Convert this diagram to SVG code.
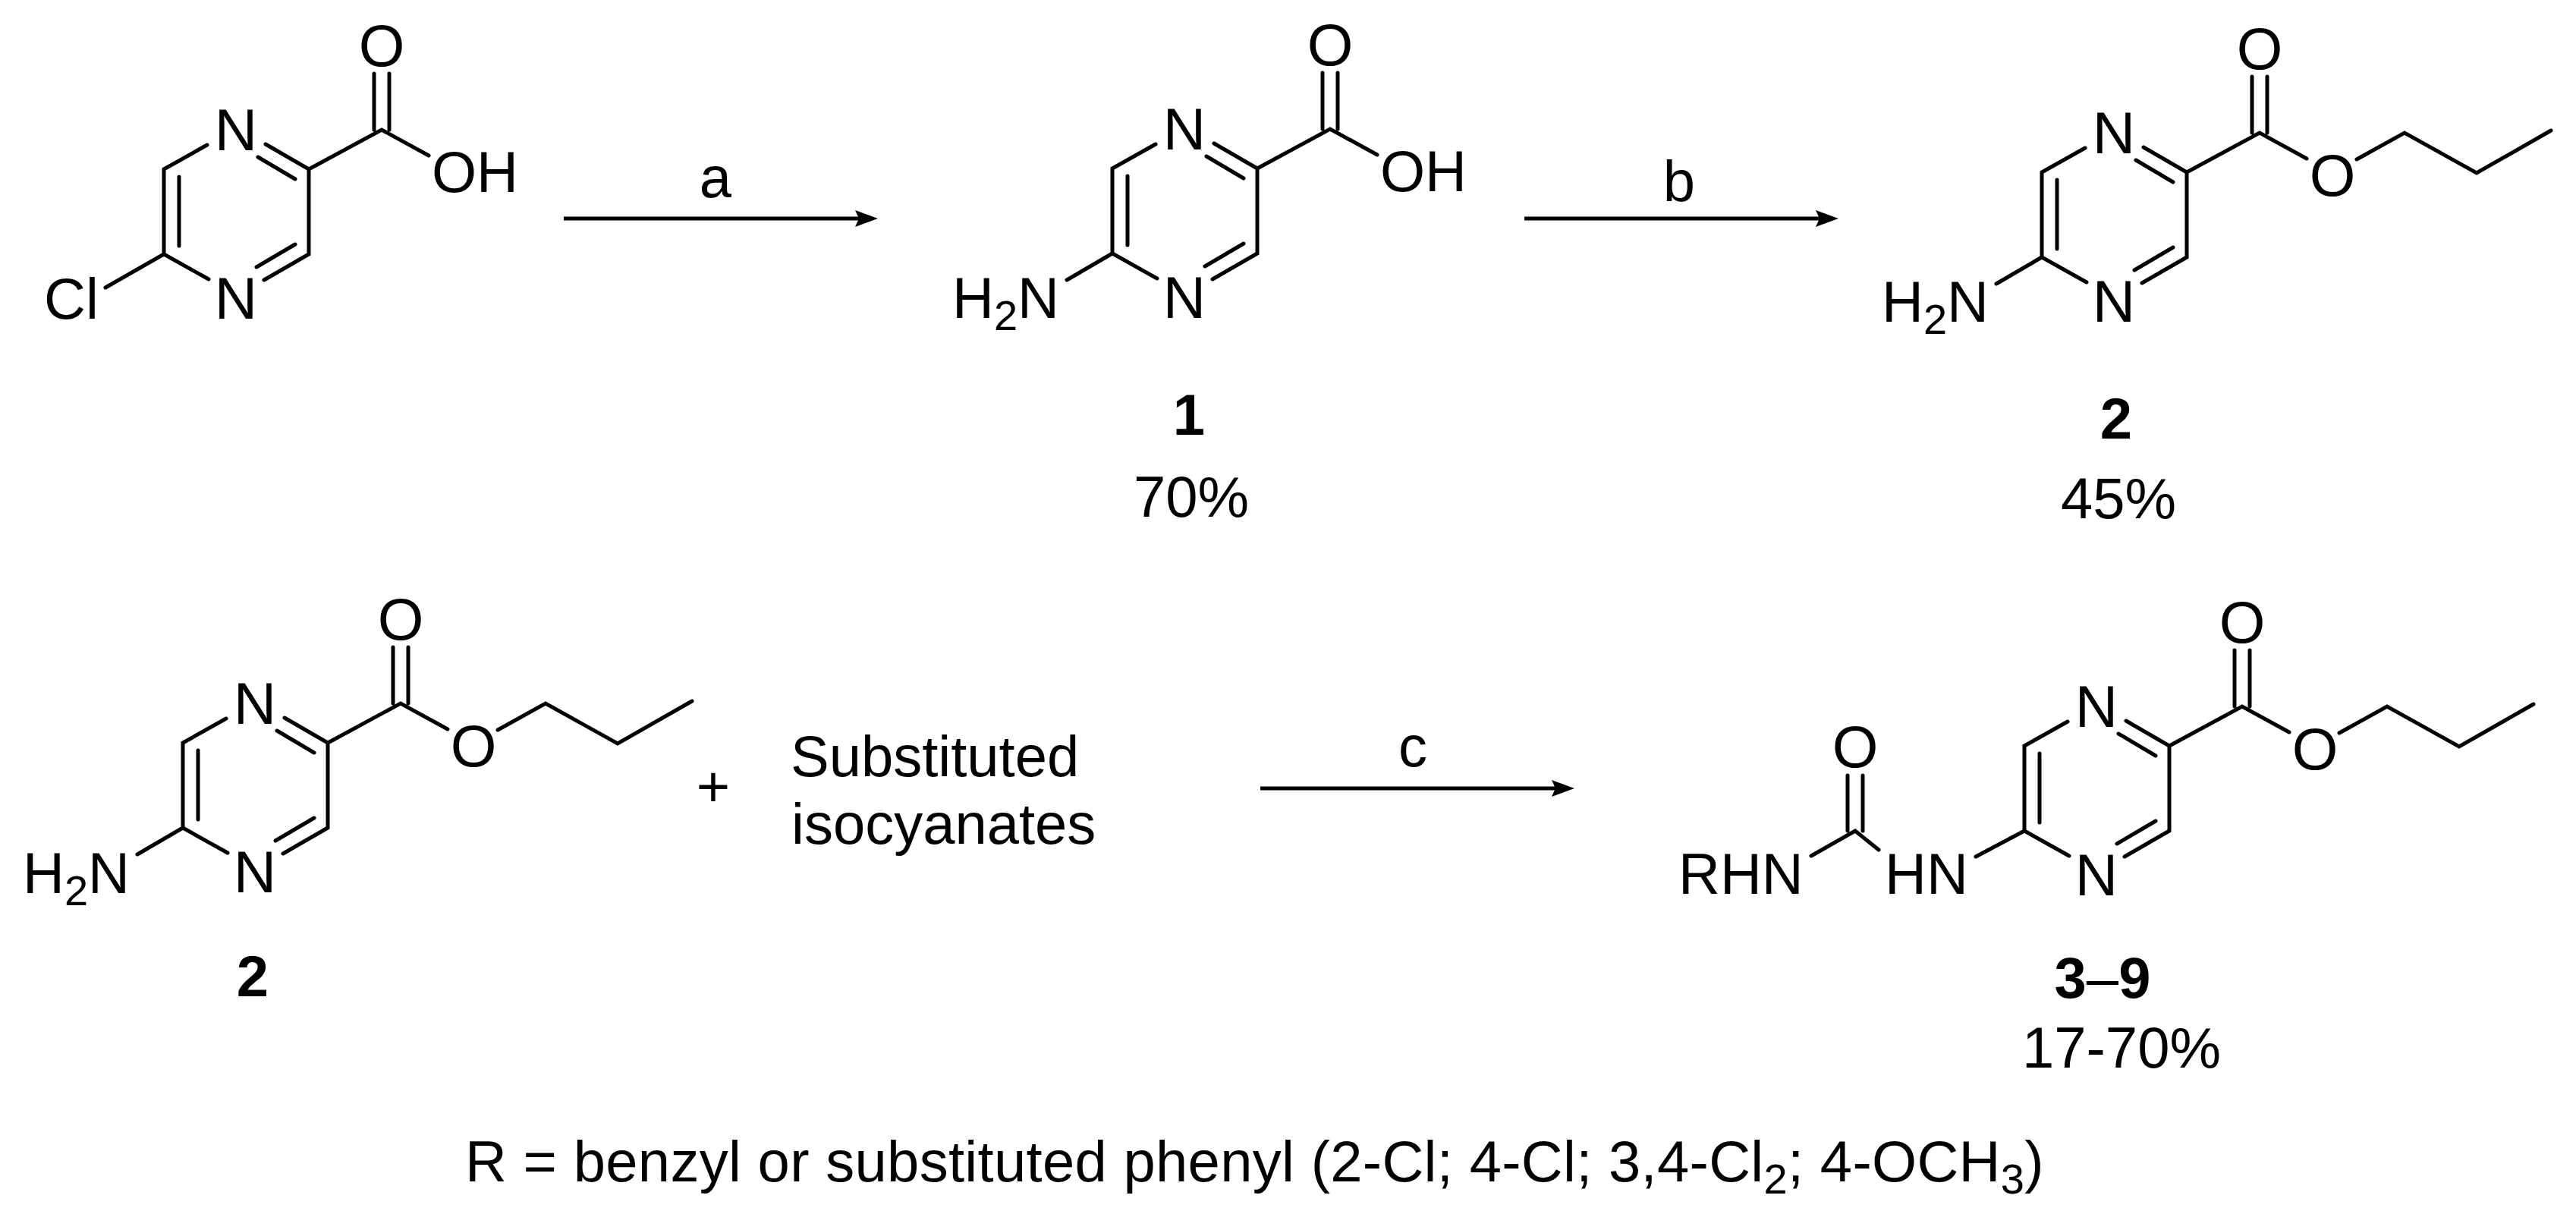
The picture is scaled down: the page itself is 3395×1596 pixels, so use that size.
<svg xmlns="http://www.w3.org/2000/svg" width="3395" height="1596" viewBox="0 0 3395 1596">
<style>
text{font-family:"Liberation Sans",Arial,sans-serif;font-size:76px;fill:#000}
.m{text-anchor:middle}
.a{font-size:78px}
.b{font-weight:bold}
.r{font-weight:normal}
.s{font-size:56px}
.bond{fill:none;stroke:#000;stroke-width:5;stroke-linecap:round;stroke-linejoin:miter;stroke-miterlimit:6}
.arrow{fill:none;stroke:#000;stroke-width:5;marker-end:url(#head)}
</style>
<defs>
<marker id="head" markerUnits="userSpaceOnUse" markerWidth="34" markerHeight="26" viewBox="0 -13 34 26" refX="6" refY="0" orient="auto" overflow="visible"><path d="M0,-11L30,0L0,11L5,0Z" fill="#000"/></marker>
<g id="core">
<path class="bond" d="M-134,-32L-191,0V112L-132,145M-171,10V101M-57,-33L0,0V112L-59,146M-67,-16L-18,13M-18,99L-69,129M0,0L96,-52L158,-18M86,-52V-126M106,-52V-126"/>
<text class="m a" x="-96" y="-25">N</text>
<text class="m a" x="-96" y="197">N</text>
<text class="m a" x="96" y="-136">O</text>
</g>
<path id="propyl" class="bond" d="M224,-17L287,-52L382,1L480,-55"/>
<path id="nh2bond" class="bond" d="M-191,112L-251,147"/>
</defs>

<g id="connectors">
<line class="arrow" x1="743" y1="288" x2="1133" y2="288"/>
<line class="arrow" x1="2009" y1="288" x2="2399" y2="288"/>
<line class="arrow" x1="1661" y1="1039" x2="2051" y2="1039"/>
</g>

<g id="chloropyrazine-acid" transform="translate(407,223)">
<use href="#core"/>
<path class="bond" d="M-191,112L-268,156"/>
<text x="-349" y="197">Cl</text>
<text x="162" y="30">OH</text>
</g>

<g id="compound-1" transform="translate(1657,222)">
<use href="#core"/><use href="#nh2bond"/>
<text x="-402" y="197">H<tspan class="s" dy="16">2</tspan><tspan dy="-16">N</tspan></text>
<text x="162" y="30">OH</text>
</g>
<g id="label-1">
<text class="m b" x="1567" y="573">1</text>
<text class="m" x="1570" y="681">70%</text>
</g>

<g id="compound-2" transform="translate(2882,227)">
<use href="#core"/><use href="#nh2bond"/><use href="#propyl"/>
<text x="-402" y="197">H<tspan class="s" dy="16">2</tspan><tspan dy="-16">N</tspan></text>
<text class="m a" x="192" y="31">O</text>
</g>
<g id="label-2">
<text class="m b" x="2789" y="578">2</text>
<text class="m" x="2792" y="683">45%</text>
</g>

<g id="compound-2b" transform="translate(432,979)">
<use href="#core"/><use href="#nh2bond"/><use href="#propyl"/>
<text x="-402" y="198">H<tspan class="s" dy="16">2</tspan><tspan dy="-16">N</tspan></text>
<text class="m a" x="192" y="31">O</text>
</g>
<g id="label-2b">
<text class="m b" x="333" y="1313">2</text>
</g>

<g id="plus"><text class="m" x="940" y="1063">+</text></g>
<g id="isocyanates">
<text x="1042" y="1023">Substituted</text>
<text x="1043" y="1112">isocyanates</text>
</g>

<g id="ureas" transform="translate(2859,983)">
<use href="#core"/><use href="#propyl"/>
<path class="bond" d="M-191,112L-255,146M-472,145L-414,112L-383,137M-424,112V39M-404,112V39"/>
<text class="m a" x="-414" y="28">O</text>
<text x="-647" y="195">RHN</text>
<text x="-375" y="195">HN</text>
<text class="m a" x="192" y="31">O</text>
</g>
<g id="label-3-9">
<text class="m b" x="2771" y="1315">3<tspan class="r">–</tspan>9</text>
<text class="m" x="2796" y="1407">17-70%</text>
</g>

<g id="labels-abc">
<text class="m" x="943" y="260">a</text>
<text class="m" x="2213" y="265">b</text>
<text class="m" x="1862" y="1010">c</text>
</g>

<g id="footnote">
<text x="613" y="1557" letter-spacing="0.3">R = benzyl or substituted phenyl (2-Cl; 4-Cl; 3,4-Cl<tspan class="s" dy="16">2</tspan><tspan dy="-16">; 4-OCH</tspan><tspan class="s" dy="16">3</tspan><tspan dy="-16">)</tspan></text>
</g>
</svg>
